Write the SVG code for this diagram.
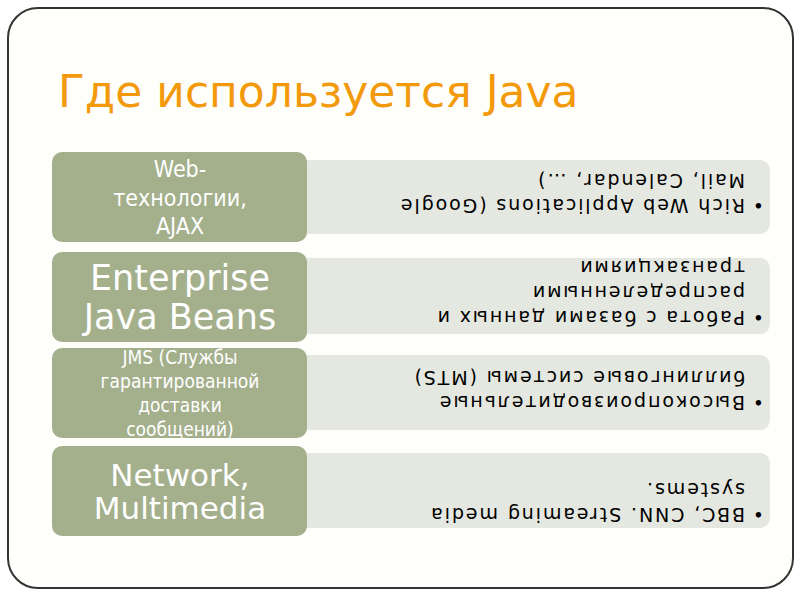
<svg xmlns="http://www.w3.org/2000/svg" width="800" height="600" viewBox="0 0 800 600">
<style>
.l{fill:#a4af8c}
.r{fill:#e5e8e0}
.w{fill:#fff;font-family:"DejaVu Sans",sans-serif;text-anchor:middle}
.c{font-family:"DejaVu Sans Condensed","DejaVu Sans",sans-serif}
.t{fill:#000;font-family:"DejaVu Sans",sans-serif;font-size:19px;letter-spacing:1.9px}
</style>
<rect width="800" height="600" fill="#fff"/>
<rect x="8" y="8" width="785" height="580" rx="30" fill="#fefefb" stroke="#333" stroke-width="2"/>
<text x="58" y="107" font-family="DejaVu Sans,sans-serif" font-size="44" fill="#f39a0c">Где используется Java</text>
<g id="row1">
<rect class="r" x="290" y="160" width="480" height="74" rx="10"/>
<rect class="l" x="52" y="152" width="255" height="90" rx="10"/>
<text class="w c" font-size="23"><tspan x="180" y="177">Web-</tspan><tspan x="180" y="206">технологии,</tspan><tspan x="180" y="234">AJAX</tspan></text>
<g transform="rotate(180 538 197)"><text class="t"><tspan x="312" y="195">•</tspan><tspan x="331" y="195">Rich Web Applications (Google</tspan><tspan x="331" y="220">Mail, Calendar, …)</tspan></text></g>
</g>
<g id="row2">
<rect class="r" x="290" y="258" width="480" height="76" rx="10"/>
<rect class="l" x="52" y="252" width="255" height="90" rx="10"/>
<text class="w" font-size="35"><tspan x="180" y="290">Enterprise</tspan><tspan x="180" y="329">Java Beans</tspan></text>
<g transform="rotate(180 538 296)"><text class="t"><tspan x="312" y="281">•</tspan><tspan x="331" y="281">Работа с базами данных и</tspan><tspan x="331" y="306">распределенными</tspan><tspan x="331" y="331">транзакциями</tspan></text></g>
</g>
<g id="row3">
<rect class="r" x="290" y="355" width="480" height="75" rx="10"/>
<rect class="l" x="52" y="348" width="255" height="90" rx="10"/>
<text class="w c" font-size="19"><tspan x="180" y="364">JMS (Службы</tspan><tspan x="180" y="388">гарантированной</tspan><tspan x="180" y="412">доставки</tspan><tspan x="180" y="436">сообщений)</tspan></text>
<g transform="rotate(180 538 392.5)"><text class="t"><tspan x="312" y="389">•</tspan><tspan x="331" y="389">Высокопроизводительные</tspan><tspan x="331" y="414">биллинговые системы (MTS)</tspan></text></g>
</g>
<g id="row4">
<rect class="r" x="290" y="453" width="480" height="75" rx="10"/>
<rect class="l" x="52" y="446" width="255" height="90" rx="10"/>
<text class="w" font-size="31"><tspan x="180" y="486">Network,</tspan><tspan x="180" y="519">Multimedia</tspan></text>
<g transform="rotate(180 538 490.5)"><text class="t"><tspan x="312" y="473">•</tspan><tspan x="331" y="473">BBC, CNN. Streaming media</tspan><tspan x="331" y="498">systems.</tspan></text></g>
</g>
<g id="connectors"/>
</svg>
